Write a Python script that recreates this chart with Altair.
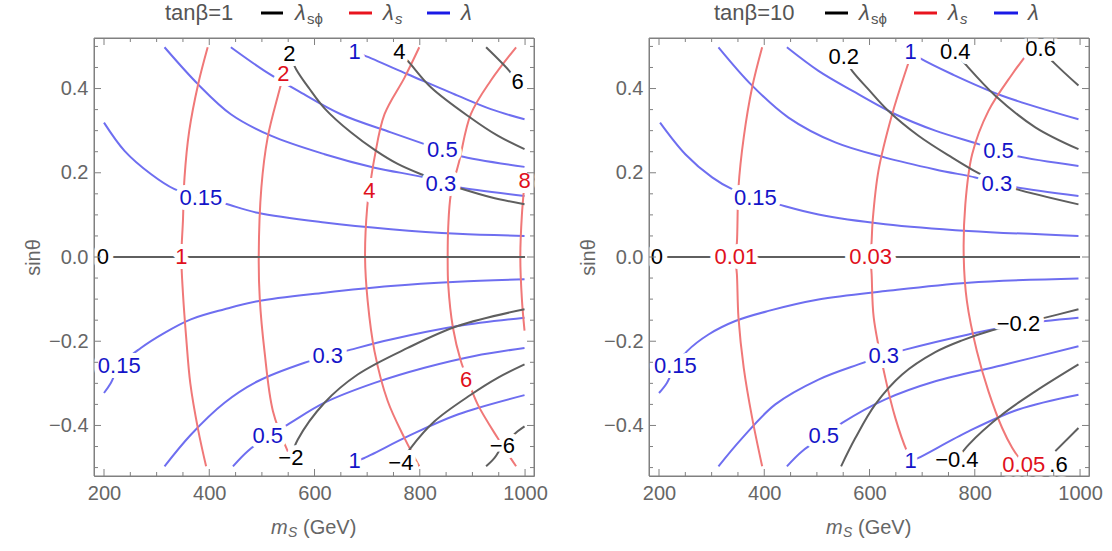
import altair as alt
import pandas as pd

FONT = "Liberation Sans"
W, H = 440, 438
X_DOMAIN = [181, 1017]
Y_DOMAIN = [-0.52, 0.52]
X_MAJOR = [200, 400, 600, 800, 1000]
X_MINOR = [250, 300, 350, 450, 500, 550, 650, 700, 750, 850, 900, 950]
Y_MAJOR = [-0.4, -0.2, 0.0, 0.2, 0.4]
Y_MINOR = [-0.5, -0.45, -0.35, -0.3, -0.25, -0.15, -0.1, -0.05,
           0.05, 0.1, 0.15, 0.25, 0.3, 0.35, 0.45, 0.5]

# ---------------- panel 1 : tan(beta) = 1 ----------------
# lambda (blue)
P1_LAM015_TOP = [(200, 0.319), (239, 0.252), (289, 0.197), (334, 0.161), (384, 0.141), (429, 0.127),
                 (492, 0.105), (619, 0.082), (745, 0.066), (872, 0.055), (999, 0.050)]
P1_LAM03_TOP = [(315, 0.498), (378, 0.411), (441, 0.339), (517, 0.288), (619, 0.244), (714, 0.212),
                (809, 0.189), (840, 0.177), (872, 0.166), (999, 0.145)]
P1_LAM05_TOP = [(441, 0.498), (505, 0.442), (568, 0.395), (650, 0.339), (745, 0.296), (809, 0.268),
                (843, 0.254), (876, 0.240), (999, 0.214)]
P1_LAM1_TOP = [(662, 0.498), (676, 0.486), (695, 0.478), (777, 0.434), (872, 0.383), (935, 0.351), (999, 0.327)]
P1_LAM015_BOT = [(999, -0.053), (872, -0.059), (745, -0.069), (619, -0.085), (492, -0.105), (429, -0.124),
                 (365, -0.148), (315, -0.180), (270, -0.216), (229, -0.259), (213, -0.299), (200, -0.323)]
P1_LAM03_BOT = [(315, -0.497), (365, -0.422), (429, -0.346), (492, -0.295), (581, -0.251), (625, -0.235),
                (669, -0.220), (745, -0.196), (872, -0.164), (999, -0.144)]
P1_LAM05_BOT = [(445, -0.497), (473, -0.461), (511, -0.426), (549, -0.398), (619, -0.346), (714, -0.299),
                (809, -0.263), (904, -0.235), (999, -0.216)]
P1_LAM1_BOT = [(676, -0.485), (691, -0.479), (777, -0.426), (872, -0.374), (999, -0.328)]
# lambda_s (red)
P1_LS1 = [(397, 0.498), (379, 0.411), (362, 0.300), (353, 0.189), (350, 0.086), (347, 0.0),
          (350, -0.086), (356, -0.189), (364, -0.300), (379, -0.411), (394, -0.497)]
P1_LS2 = [(555, 0.498), (543, 0.440), (532, 0.390), (511, 0.284), (499, 0.165), (494, 0.0),
          (496, -0.100), (505, -0.224), (521, -0.366), (549, -0.461), (564, -0.497)]
P1_LS4 = [(799, 0.498), (771, 0.426), (733, 0.339), (714, 0.236), (704, 0.157), (700, 0.117), (696, 0.0),
          (701, -0.105), (714, -0.224), (739, -0.342), (771, -0.430), (799, -0.497)]
P1_LS6 = [(983, 0.498), (935, 0.419), (897, 0.339), (875, 0.228), (859, 0.149), (854, 0.070), (853, 0.0),
          (854, -0.065), (863, -0.168), (878, -0.247), (891, -0.291), (910, -0.350), (948, -0.430), (983, -0.497)]
P1_LS8 = [(999, 0.175), (994, 0.100), (991, 0.0), (994, -0.100), (999, -0.175)]
# lambda_s-phi (black)
P1_LSP0 = [(200, 0.0), (1000, 0.0)]
P1_LSP2 = [(552, 0.482), (565, 0.446), (590, 0.400), (619, 0.353), (669, 0.296), (717, 0.252), (758, 0.221),
           (809, 0.193), (840, 0.178), (872, 0.165), (935, 0.142), (999, 0.125)]
P1_LSP4 = [(761, 0.486), (777, 0.466), (821, 0.403), (897, 0.330), (948, 0.288), (999, 0.256)]
P1_LSP6 = [(926, 0.498), (970, 0.442), (986, 0.415)]
P1_LSPM2 = [(555, -0.477), (568, -0.434), (619, -0.346), (682, -0.279), (777, -0.216), (872, -0.164), (999, -0.124)]
P1_LSPM4 = [(764, -0.489), (783, -0.453), (828, -0.390), (897, -0.327), (948, -0.287), (999, -0.255)]
P1_LSPM6 = [(926, -0.497), (942, -0.477), (957, -0.449), (986, -0.414), (999, -0.402)]

P1_LAM_LABELS = [("0.15", 384, 0.141), ("0.3", 840, 0.173), ("0.5", 843, 0.254), ("1", 676, 0.486),
                 ("0.15", 229, -0.259), ("0.3", 625, -0.235), ("0.5", 511, -0.426), ("1", 676, -0.485)]
P1_LS_LABELS = [("1", 347, 0.0), ("2", 541, 0.434), ("4", 704, 0.157), ("8", 999, 0.181), ("6", 888, -0.291)]
P1_LSP_LABELS = [("0", 198, 0.0), ("2", 552, 0.482), ("4", 761, 0.486), ("6", 986, 0.415),
                 ("\u22122", 555, -0.477), ("\u22124", 764, -0.489), ("\u22126", 957, -0.449)]

# ---------------- panel 2 : tan(beta) = 10 ----------------
P2_LAM015_TOP = [(202, 0.319), (250, 0.244), (301, 0.189), (339, 0.161), (383, 0.141), (427, 0.125),
                 (503, 0.101), (630, 0.078), (788, 0.062), (997, 0.050)]
P2_LAM03_TOP = [(313, 0.498), (377, 0.407), (446, 0.331), (535, 0.272), (630, 0.236), (725, 0.208),
                (801, 0.189), (842, 0.177), (877, 0.166), (997, 0.145)]
P2_LAM05_TOP = [(443, 0.498), (503, 0.442), (567, 0.395), (649, 0.339), (725, 0.300), (807, 0.268),
                (845, 0.252), (877, 0.240), (997, 0.216)]
P2_LAM1_TOP = [(662, 0.498), (678, 0.486), (693, 0.474), (757, 0.434), (852, 0.383), (997, 0.327)]
P2_LAM015_BOT = [(997, -0.051), (788, -0.061), (630, -0.081), (503, -0.101), (408, -0.128), (345, -0.152),
                 (294, -0.184), (253, -0.224), (231, -0.259), (215, -0.299), (200, -0.323)]
P2_LAM03_BOT = [(313, -0.497), (358, -0.430), (421, -0.350), (503, -0.291), (579, -0.255), (627, -0.235),
                (668, -0.220), (788, -0.184), (883, -0.160), (997, -0.144)]
P2_LAM05_BOT = [(443, -0.497), (472, -0.461), (513, -0.426), (548, -0.394), (630, -0.338), (725, -0.295),
                (852, -0.257), (997, -0.212)]
P2_LAM1_BOT = [(678, -0.485), (693, -0.477), (788, -0.414), (883, -0.362), (997, -0.327)]
P2_LS001 = [(396, 0.498), (377, 0.403), (361, 0.284), (351, 0.165), (348, 0.034), (345, 0.0),
            (348, -0.041), (351, -0.144), (361, -0.263), (377, -0.382), (396, -0.497)]
P2_LS003 = [(684, 0.498), (671, 0.450), (643, 0.339), (617, 0.205), (606, 0.086), (604, 0.038), (602, 0.0),
            (604, -0.041), (608, -0.144), (630, -0.287), (649, -0.382), (671, -0.461), (686, -0.497)]
P2_LS005 = [(909, 0.498), (871, 0.434), (826, 0.347), (795, 0.244), (782, 0.125), (779, 0.0),
            (785, -0.105), (804, -0.224), (826, -0.319), (852, -0.406), (871, -0.453), (893, -0.493)]
P2_LSP0 = [(200, 0.0), (1000, 0.0)]
P2_LSP02 = [(551, 0.474), (567, 0.442), (598, 0.398), (635, 0.348), (693, 0.288), (757, 0.236),
            (807, 0.199), (842, 0.178), (877, 0.162), (997, 0.125)]
P2_LSP04 = [(763, 0.486), (782, 0.458), (839, 0.383), (915, 0.308), (997, 0.256)]
P2_LSP06 = [(925, 0.494), (953, 0.458), (997, 0.407)]
P2_LSPM02 = [(546, -0.497), (573, -0.430), (611, -0.350), (662, -0.279), (725, -0.226), (776, -0.198),
             (833, -0.174), (934, -0.144), (997, -0.124)]
P2_LSPM04 = [(766, -0.481), (788, -0.446), (852, -0.374), (915, -0.319), (997, -0.255)]
P2_LSPM06 = [(953, -0.461), (997, -0.406)]

P2_LAM_LABELS = [("0.15", 383, 0.141), ("0.3", 842, 0.173), ("0.5", 845, 0.252), ("1", 678, 0.486),
                 ("0.15", 231, -0.259), ("0.3", 627, -0.235), ("0.5", 513, -0.426), ("1", 678, -0.485)]
P2_LS_LABELS = [("0.01", 346, 0.0), ("0.03", 602, 0.0), ("0.05", 893, -0.493)]
P2_LSP_LABELS = [("0", 196, 0.0), ("0.2", 551, 0.474), ("0.4", 763, 0.486), ("0.6", 925, 0.494),
                 ("\u22120.2", 883, -0.160), ("\u22120.4", 766, -0.481), (".6", 959, -0.493)]

# ---------------- styles ----------------
LINE_COL = {"lam": "#6e6ef0", "ls": "#f07878", "lsp": "#5f5f5f"}
TEXT_COL = {"lam": "#1414c8", "ls": "#e0101c", "lsp": "#000000"}
KEY_COL = {"lsp": "#000000", "ls": "#e8141e", "lam": "#1a1ae6"}
GREY = "#666666"
FRAME = "#808080"

XS = alt.Scale(domain=X_DOMAIN, nice=False, zero=False)
YS = alt.Scale(domain=Y_DOMAIN, nice=False, zero=False)
XAX = alt.Axis(values=X_MAJOR, format="d", tickSize=0, domain=False, grid=False, labelFont=FONT,
               labelFontSize=20, labelColor=GREY, labelPadding=7, labelFlush=False, labelOverlap=False,
               title=None)
YAX = alt.Axis(values=Y_MAJOR, format=".1f", tickSize=0, domain=False, grid=False, labelFont=FONT,
               labelFontSize=20, labelColor=GREY, labelPadding=6, labelOverlap=False,
               title="sin\u03b8", titleFont=FONT, titleFontSize=20, titleColor=GREY, titleFontWeight="normal",
               titleX=-61, titleY=H / 2, titleAngle=270, titleAlign="center", titleBaseline="middle")
ONE = alt.Data(values=[{"a": 0}])


def X(f):
    return alt.X(f, type="quantitative", scale=XS, axis=XAX, title=None)


def Y(f):
    return alt.Y(f, type="quantitative", scale=YS, axis=YAX)


def txt(x, y, s, size, color, style="normal", align="left"):
    return alt.Chart(ONE).mark_text(text=s, font=FONT, fontSize=size, fontStyle=style, color=color,
                                    align=align, baseline="middle").encode(x=alt.value(x), y=alt.value(y))


def seg(x1, x2, y, color, w=3):
    return alt.Chart(ONE).mark_rule(color=color, strokeWidth=w).encode(
        x=alt.value(x1), x2=alt.value(x2), y=alt.value(y))


def vseg(x, y1, y2, color, w=1):
    return alt.Chart(ONE).mark_rule(color=color, strokeWidth=w).encode(
        x=alt.value(x), y=alt.value(y1), y2=alt.value(y2))


def panel(curves, lam_lab, ls_lab, lsp_lab, tanb, page_left, head):
    rows = []
    for fam, cid, pts in curves:
        for i, (x, y) in enumerate(pts):
            rows.append({"cid": cid, "i": i, "x": x, "y": y, "col": LINE_COL[fam]})
    lines_df = pd.DataFrame(rows)
    lrows = []
    for fam, labs in (("lsp", lsp_lab), ("lam", lam_lab), ("ls", ls_lab)):
        for t, x, y in labs:
            lrows.append({"t": t, "x": x, "y": y, "col": TEXT_COL[fam]})
    lab_df = pd.DataFrame(lrows)

    layers = []
    # invisible anchor fixing the outer bounds
    layers.append(alt.Chart(ONE).mark_rect(opacity=0).encode(
        x=alt.value(-93), x2=alt.value(-92), y=alt.value(-37), y2=alt.value(-36)))
    layers.append(alt.Chart(lines_df).mark_line(strokeWidth=2, interpolate="catmull-rom").encode(
        x=X("x"), y=Y("y"), color=alt.Color("col:N", scale=None), detail="cid:N", order="i:Q"))
    layers.append(alt.Chart(lab_df).mark_text(font=FONT, fontSize=22, stroke="white", strokeWidth=10,
                                              strokeJoin="round", fill="white", baseline="middle").encode(
        x=X("x"), y=Y("y"), text="t:N"))
    layers.append(alt.Chart(lab_df).mark_text(font=FONT, fontSize=22, baseline="middle").encode(
        x=X("x"), y=Y("y"), text="t:N", color=alt.Color("col:N", scale=None)))
    # frame drawn above the label backgrounds
    layers.append(seg(0, W, 0, FRAME, 1))
    layers.append(seg(0, W, H, FRAME, 1))
    layers.append(vseg(0, 0, H, FRAME))
    layers.append(vseg(W, 0, H, FRAME))
    # inward frame ticks
    for vals, ln in ((X_MAJOR, 7), (X_MINOR, 4)):
        d = alt.Data(values=[{"v": v} for v in vals])
        layers.append(alt.Chart(d).mark_rule(color=FRAME, strokeWidth=1).encode(
            x=X("v"), y=alt.value(H), y2=alt.value(H - ln)))
        layers.append(alt.Chart(d).mark_rule(color=FRAME, strokeWidth=1).encode(
            x=X("v"), y=alt.value(0), y2=alt.value(ln)))
    for vals, ln in ((Y_MAJOR, 7), (Y_MINOR, 4)):
        d = alt.Data(values=[{"v": v} for v in vals])
        layers.append(alt.Chart(d).mark_rule(color=FRAME, strokeWidth=1).encode(
            y=Y("v"), x=alt.value(0), x2=alt.value(ln)))
        layers.append(alt.Chart(d).mark_rule(color=FRAME, strokeWidth=1).encode(
            y=Y("v"), x=alt.value(W), x2=alt.value(W - ln)))
    # header: tan(beta) and key
    hy = 12 - 37
    o = page_left
    layers.append(txt(head["tan"] - o, hy, "tan\u03b2=" + tanb, 22, "#555555"))
    layers.append(seg(head["k1"][0] - o, head["k1"][1] - o, hy, KEY_COL["lsp"]))
    layers.append(txt(head["l1"] - o, hy, "\u03bb", 22, "#555555", "italic"))
    layers.append(txt(head["l1"] - o + 12, hy + 6, "s\u03d5", 15, "#555555"))
    layers.append(seg(head["k2"][0] - o, head["k2"][1] - o, hy, KEY_COL["ls"]))
    layers.append(txt(head["l2"] - o, hy, "\u03bb", 22, "#555555", "italic"))
    layers.append(txt(head["l2"] - o + 12, hy + 6, "s", 15, "#555555", "italic"))
    layers.append(seg(head["k3"][0] - o, head["k3"][1] - o, hy, KEY_COL["lam"]))
    layers.append(txt(head["l3"] - o, hy, "\u03bb", 22, "#555555", "italic"))
    # x title: m_S (GeV)
    ty = 527 - 37
    layers.append(txt(177, ty, "m", 20, GREY, "italic"))
    layers.append(txt(194, ty + 5, "S", 14, GREY, "italic"))
    layers.append(txt(209, ty, "(GeV)", 20, GREY))
    return alt.layer(*layers).properties(width=W, height=H)


C1 = [("lam", "a1", P1_LAM015_TOP), ("lam", "a2", P1_LAM03_TOP), ("lam", "a3", P1_LAM05_TOP),
      ("lam", "a4", P1_LAM1_TOP), ("lam", "a5", P1_LAM015_BOT), ("lam", "a6", P1_LAM03_BOT),
      ("lam", "a7", P1_LAM05_BOT), ("lam", "a8", P1_LAM1_BOT),
      ("ls", "b1", P1_LS1), ("ls", "b2", P1_LS2), ("ls", "b3", P1_LS4), ("ls", "b4", P1_LS6), ("ls", "b5", P1_LS8),
      ("lsp", "c0", P1_LSP0), ("lsp", "c1", P1_LSP2), ("lsp", "c2", P1_LSP4), ("lsp", "c3", P1_LSP6),
      ("lsp", "c4", P1_LSPM2), ("lsp", "c5", P1_LSPM4), ("lsp", "c6", P1_LSPM6)]
C2 = [("lam", "a1", P2_LAM015_TOP), ("lam", "a2", P2_LAM03_TOP), ("lam", "a3", P2_LAM05_TOP),
      ("lam", "a4", P2_LAM1_TOP), ("lam", "a5", P2_LAM015_BOT), ("lam", "a6", P2_LAM03_BOT),
      ("lam", "a7", P2_LAM05_BOT), ("lam", "a8", P2_LAM1_BOT),
      ("ls", "b1", P2_LS001), ("ls", "b2", P2_LS003), ("ls", "b3", P2_LS005),
      ("lsp", "c0", P2_LSP0), ("lsp", "c1", P2_LSP02), ("lsp", "c2", P2_LSP04), ("lsp", "c3", P2_LSP06),
      ("lsp", "c4", P2_LSPM02), ("lsp", "c5", P2_LSPM04), ("lsp", "c6", P2_LSPM06)]

HEAD1 = {"tan": 164, "k1": (260, 282), "l1": 294, "k2": (348, 371), "l2": 382, "k3": (426, 449), "l3": 460}
HEAD2 = {"tan": 713, "k1": (824, 847), "l1": 858, "k2": (913, 936), "l2": 947, "k3": (993, 1017), "l3": 1027}

left = panel(C1, P1_LAM_LABELS, P1_LS_LABELS, P1_LSP_LABELS, "1", 93, HEAD1)
right = panel(C2, P2_LAM_LABELS, P2_LS_LABELS, P2_LSP_LABELS, "10", 648, HEAD2)

chart = alt.hconcat(left, right, spacing=115, bounds="flush", padding=0).configure_view(
    stroke=FRAME, strokeWidth=1)

chart.save("out.html", embed_options={"renderer": "svg", "actions": False})
